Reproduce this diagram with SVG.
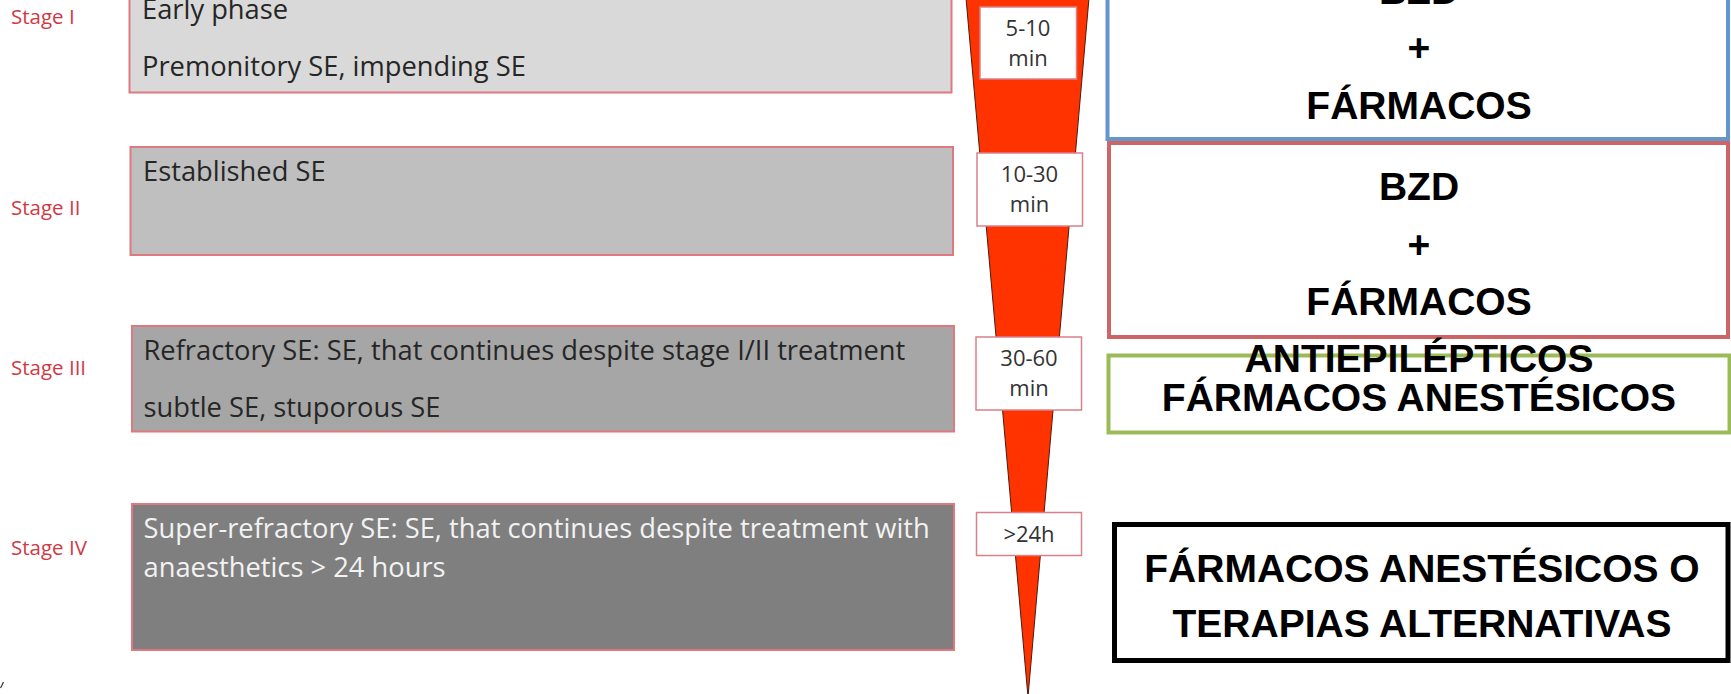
<svg xmlns="http://www.w3.org/2000/svg" width="1731" height="694" viewBox="0 0 1731 694">
<style>
.stage{fill:#cf3a45;font-family:"Open Sans","Liberation Sans",sans-serif;font-size:20.5px}
.sbox{stroke:#e07880;stroke-width:2}
.st{font-family:"Open Sans","Liberation Sans",sans-serif;font-size:27.3px;fill:#262626}
.tbox{fill:#ffffff;stroke:#d9808a;stroke-width:1.5}
.tt{font-family:"Open Sans","Liberation Sans",sans-serif;font-size:22px;fill:#333333;text-anchor:middle}
.big{font-family:"Liberation Sans",Arial,sans-serif;font-weight:bold;font-size:39px;fill:#000000;text-anchor:middle}
.rb{fill:#ffffff}
</style>
<rect x="0" y="0" width="1731" height="694" fill="#ffffff"/>
<g id="stage1">
<text class="stage" x="11" y="24">Stage I</text>
<rect class="sbox" x="129.5" y="-10" width="822" height="102.5" fill="#d9d9d9"/>
<text class="st" x="142" y="19">Early phase</text>
<text class="st" x="142" y="76">Premonitory SE, impending SE</text>
</g>
<g id="stage2">
<text class="stage" x="11" y="215">Stage II</text>
<rect class="sbox" x="130.5" y="147" width="822.5" height="108" fill="#bfbfbf"/>
<text class="st" x="143" y="181">Established SE</text>
</g>
<g id="stage3">
<text class="stage" x="11" y="375">Stage III</text>
<rect class="sbox" x="132" y="326" width="822" height="105.5" fill="#a6a6a6"/>
<text class="st" x="143.5" y="360">Refractory SE: SE, that continues despite stage I/II treatment</text>
<text class="st" x="143.5" y="417">subtle SE, stuporous SE</text>
</g>
<g id="stage4">
<text class="stage" x="11" y="555">Stage IV</text>
<rect class="sbox" x="132" y="504" width="822" height="146" fill="#7f7f7f"/>
<text class="st" x="143.5" y="538" style="fill:#f2f2f2">Super-refractory SE: SE, that continues despite treatment with</text>
<text class="st" x="143.5" y="577" style="fill:#f2f2f2">anaesthetics &gt; 24 hours</text>
</g>
<g id="timeline">
<polygon points="966,-2 1089,-2 1028,697" fill="#ff3300" stroke="#4a1a10" stroke-width="1"/>
<rect class="tbox" x="980" y="7" width="96.5" height="72"/>
<text class="tt" x="1028" y="36">5-10</text>
<text class="tt" x="1028" y="66">min</text>
<rect class="tbox" x="977" y="153" width="105.5" height="73"/>
<text class="tt" x="1029.5" y="182">10-30</text>
<text class="tt" x="1029.5" y="212">min</text>
<rect class="tbox" x="976" y="337" width="105.5" height="73"/>
<text class="tt" x="1029" y="366">30-60</text>
<text class="tt" x="1029" y="396">min</text>
<rect class="tbox" x="976.5" y="512.5" width="105" height="43"/>
<text class="tt" x="1029" y="542">&gt;24h</text>
</g>
<g id="tx-green">
<rect class="rb" x="1108.5" y="355.5" width="621" height="77" stroke="#9bbb59" stroke-width="4"/>
<text class="big" x="1419" y="411">FÁRMACOS ANESTÉSICOS</text>
</g>
<g id="tx-black">
<rect class="rb" x="1114.5" y="524.5" width="613.5" height="136" stroke="#000000" stroke-width="5"/>
<text class="big" x="1422" y="582">FÁRMACOS ANESTÉSICOS O</text>
<text class="big" x="1422" y="637">TERAPIAS ALTERNATIVAS</text>
</g>
<g id="tx-blue">
<rect class="rb" x="1107.5" y="-10" width="620.5" height="149" stroke="#6495cd" stroke-width="4"/>
<text class="big" x="1419" y="4">BZD</text>
<text class="big" x="1419" y="61">+</text>
<text class="big" x="1419" y="119">FÁRMACOS</text>
<text class="big" x="1419" y="177">ANTIEPILÉPTICOS</text>
</g>
<g id="tx-red">
<rect class="rb" x="1109" y="143" width="619" height="194" stroke="#cc6666" stroke-width="4"/>
<text class="big" x="1419" y="200">BZD</text>
<text class="big" x="1419" y="258">+</text>
<text class="big" x="1419" y="315">FÁRMACOS</text>
<text class="big" x="1419" y="372">ANTIEPILÉPTICOS</text>
</g>
<path d="M0.5,688 L3.5,682" stroke="#333333" stroke-width="1.2" fill="none"/>
</svg>
